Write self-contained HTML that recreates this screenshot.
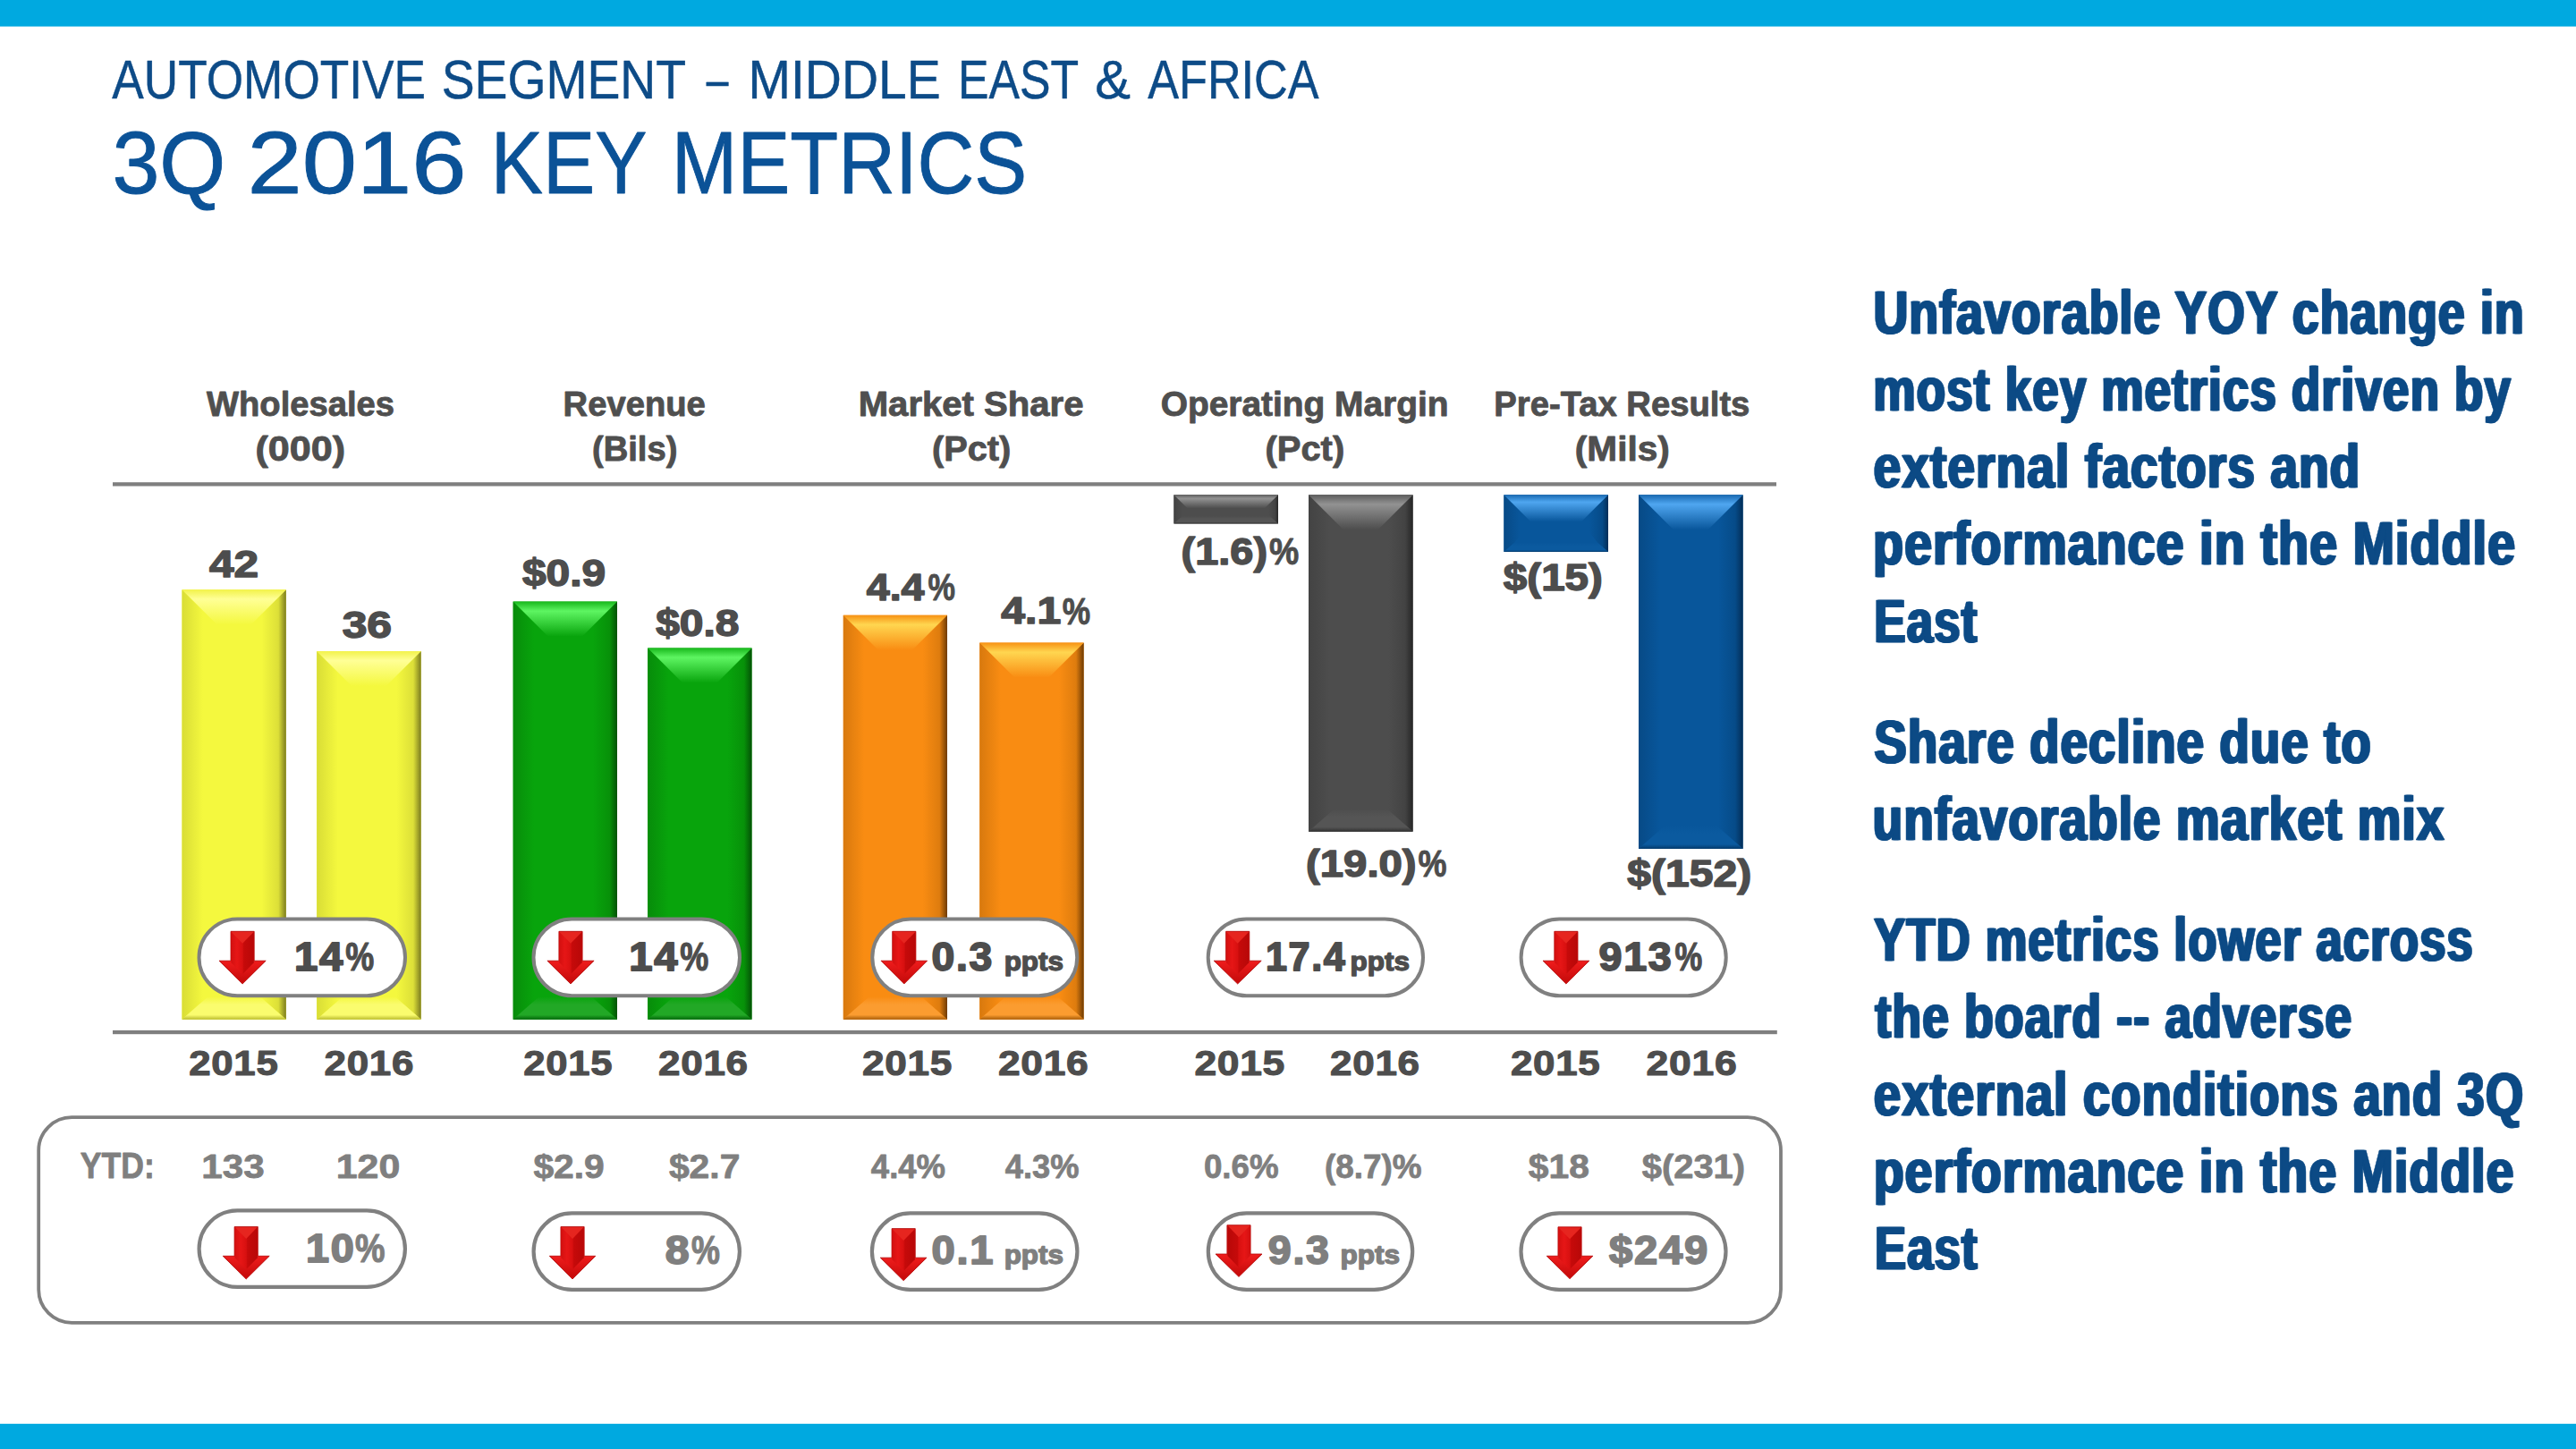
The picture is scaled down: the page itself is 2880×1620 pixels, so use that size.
<!DOCTYPE html>
<html lang="en"><head><meta charset="utf-8"><title>Automotive Segment – Middle East &amp; Africa – 3Q 2016 Key Metrics</title>
<style>
html,body{margin:0;padding:0;background:#fff;}
body{width:2880px;height:1620px;overflow:hidden;font-family:"Liberation Sans",sans-serif;}
svg{display:block;}
svg text{font-family:"Liberation Sans",sans-serif;white-space:pre;}
</style></head><body>
<svg width="2880" height="1620" viewBox="0 0 2880 1620">
<defs>
<linearGradient id="yt" x1="0" y1="0" x2="0" y2="1"><stop offset="0" stop-color="#f2f24a"/><stop offset="0.27" stop-color="#ffff96"/><stop offset="1" stop-color="#f4f83e"/></linearGradient>
<linearGradient id="yl" x1="0" y1="0" x2="1" y2="0"><stop offset="0" stop-color="#d9dd36"/><stop offset="0.6" stop-color="#f4f83e"/></linearGradient>
<linearGradient id="yr" x1="0" y1="0" x2="1" y2="0"><stop offset="0.3" stop-color="#f4f83e"/><stop offset="0.78" stop-color="#dcdf38"/><stop offset="1" stop-color="#7c7c20"/></linearGradient>
<linearGradient id="yb" x1="0" y1="0" x2="0" y2="1"><stop offset="0" stop-color="#f4f83e"/><stop offset="0.35" stop-color="#fafc6e"/><stop offset="0.8" stop-color="#fafc6e"/><stop offset="1" stop-color="#b9bb2e"/></linearGradient>
<linearGradient id="gt" x1="0" y1="0" x2="0" y2="1"><stop offset="0" stop-color="#18b81c"/><stop offset="0.27" stop-color="#5ef562"/><stop offset="1" stop-color="#08a40c"/></linearGradient>
<linearGradient id="gl" x1="0" y1="0" x2="1" y2="0"><stop offset="0" stop-color="#078c0a"/><stop offset="0.6" stop-color="#08a40c"/></linearGradient>
<linearGradient id="gr" x1="0" y1="0" x2="1" y2="0"><stop offset="0.3" stop-color="#08a40c"/><stop offset="0.78" stop-color="#079109"/><stop offset="1" stop-color="#035206"/></linearGradient>
<linearGradient id="gb" x1="0" y1="0" x2="0" y2="1"><stop offset="0" stop-color="#08a40c"/><stop offset="0.35" stop-color="#22a826"/><stop offset="0.8" stop-color="#22a826"/><stop offset="1" stop-color="#04660a"/></linearGradient>
<linearGradient id="ot" x1="0" y1="0" x2="0" y2="1"><stop offset="0" stop-color="#f79214"/><stop offset="0.27" stop-color="#ffd650"/><stop offset="1" stop-color="#f98c12"/></linearGradient>
<linearGradient id="ol" x1="0" y1="0" x2="1" y2="0"><stop offset="0" stop-color="#d8790e"/><stop offset="0.6" stop-color="#f98c12"/></linearGradient>
<linearGradient id="or" x1="0" y1="0" x2="1" y2="0"><stop offset="0.3" stop-color="#f98c12"/><stop offset="0.78" stop-color="#de7c0e"/><stop offset="1" stop-color="#6e3b04"/></linearGradient>
<linearGradient id="ob" x1="0" y1="0" x2="0" y2="1"><stop offset="0" stop-color="#f98c12"/><stop offset="0.35" stop-color="#fb9c30"/><stop offset="0.8" stop-color="#fb9c30"/><stop offset="1" stop-color="#a85c08"/></linearGradient>
<linearGradient id="kt" x1="0" y1="0" x2="0" y2="1"><stop offset="0" stop-color="#5e5e5e"/><stop offset="0.27" stop-color="#929292"/><stop offset="1" stop-color="#4d4d4d"/></linearGradient>
<linearGradient id="kl" x1="0" y1="0" x2="1" y2="0"><stop offset="0" stop-color="#434343"/><stop offset="0.6" stop-color="#4d4d4d"/></linearGradient>
<linearGradient id="kr" x1="0" y1="0" x2="1" y2="0"><stop offset="0.3" stop-color="#4d4d4d"/><stop offset="0.78" stop-color="#434343"/><stop offset="1" stop-color="#262626"/></linearGradient>
<linearGradient id="kb" x1="0" y1="0" x2="0" y2="1"><stop offset="0" stop-color="#4d4d4d"/><stop offset="0.35" stop-color="#555555"/><stop offset="0.8" stop-color="#555555"/><stop offset="1" stop-color="#303030"/></linearGradient>
<linearGradient id="bt" x1="0" y1="0" x2="0" y2="1"><stop offset="0" stop-color="#1a6ab2"/><stop offset="0.27" stop-color="#4fa6f0"/><stop offset="1" stop-color="#08569b"/></linearGradient>
<linearGradient id="bl" x1="0" y1="0" x2="1" y2="0"><stop offset="0" stop-color="#074a86"/><stop offset="0.6" stop-color="#08569b"/></linearGradient>
<linearGradient id="br" x1="0" y1="0" x2="1" y2="0"><stop offset="0.3" stop-color="#08569b"/><stop offset="0.78" stop-color="#064b88"/><stop offset="1" stop-color="#032e58"/></linearGradient>
<linearGradient id="bb" x1="0" y1="0" x2="0" y2="1"><stop offset="0" stop-color="#08569b"/><stop offset="0.35" stop-color="#0b5a9f"/><stop offset="0.8" stop-color="#0b5a9f"/><stop offset="1" stop-color="#043a6c"/></linearGradient>
<linearGradient id="ah" x1="0" y1="0" x2="0" y2="1"><stop offset="0" stop-color="#ee1c1c"/><stop offset="1" stop-color="#c40a0a"/></linearGradient>
<linearGradient id="as" x1="0" y1="0" x2="1" y2="0"><stop offset="0" stop-color="#d41010"/><stop offset="0.25" stop-color="#e61616"/><stop offset="0.5" stop-color="#d81010"/><stop offset="0.56" stop-color="#c60a0a"/><stop offset="1" stop-color="#b80808"/></linearGradient>
<linearGradient id="asf" x1="1" y1="0" x2="0" y2="0"><stop offset="0" stop-color="#d41010"/><stop offset="0.25" stop-color="#e61616"/><stop offset="0.5" stop-color="#d81010"/><stop offset="0.56" stop-color="#c60a0a"/><stop offset="1" stop-color="#b80808"/></linearGradient>
</defs>
<rect x="0" y="0" width="2880" height="29.6" fill="#00a9e0"/>
<rect x="0" y="1591.8" width="2880" height="28.2" fill="#00a9e0"/>
<text transform="translate(125.22,109.95) scale(0.8729,1)" font-size="60.97" font-weight="400" fill="#0d4b87" stroke="#0d4b87" stroke-width="0.5" stroke-linejoin="round">AUTOMOTIVE</text>
<text transform="translate(493.66,109.95) scale(0.9072,1)" font-size="60.97" font-weight="400" fill="#0d4b87" stroke="#0d4b87" stroke-width="0.5" stroke-linejoin="round">SEGMENT</text>
<text transform="translate(789.65,109.95) scale(0.7270,1)" font-size="60.97" font-weight="400" fill="#0d4b87" stroke="#0d4b87" stroke-width="0.5" stroke-linejoin="round">–</text>
<text transform="translate(836.55,109.95) scale(0.9338,1)" font-size="60.97" font-weight="400" fill="#0d4b87" stroke="#0d4b87" stroke-width="0.5" stroke-linejoin="round">MIDDLE</text>
<text transform="translate(1070.98,109.95) scale(0.8485,1)" font-size="60.97" font-weight="400" fill="#0d4b87" stroke="#0d4b87" stroke-width="0.5" stroke-linejoin="round">EAST</text>
<text transform="translate(1224.16,109.95) scale(0.9774,1)" font-size="60.97" font-weight="400" fill="#0d4b87" stroke="#0d4b87" stroke-width="0.5" stroke-linejoin="round">&amp;</text>
<text transform="translate(1283.22,109.95) scale(0.8562,1)" font-size="60.97" font-weight="400" fill="#0d4b87" stroke="#0d4b87" stroke-width="0.5" stroke-linejoin="round">AFRICA</text>
<text transform="translate(125.38,215.85) scale(0.9633,1)" font-size="98.77" font-weight="400" fill="#0b5297" stroke="#0b5297" stroke-width="0.9" stroke-linejoin="round">3Q</text>
<text transform="translate(276.44,215.85) scale(1.1151,1)" font-size="98.77" font-weight="400" fill="#0b5297" stroke="#0b5297" stroke-width="0.9" stroke-linejoin="round">2016</text>
<text transform="translate(548.75,215.85) scale(0.8836,1)" font-size="98.77" font-weight="400" fill="#0b5297" stroke="#0b5297" stroke-width="0.9" stroke-linejoin="round">KEY</text>
<text transform="translate(750.87,215.85) scale(0.8938,1)" font-size="98.77" font-weight="400" fill="#0b5297" stroke="#0b5297" stroke-width="0.9" stroke-linejoin="round">METRICS</text>
<text transform="translate(231.05,465.25) scale(0.9865,1)" font-size="38.69" font-weight="700" fill="#4f4f4f" stroke="#4f4f4f" stroke-width="0.9" stroke-linejoin="round">Wholesales</text>
<text transform="translate(285.39,515.15) scale(1.1148,1)" font-size="38.69" font-weight="700" fill="#4f4f4f" stroke="#4f4f4f" stroke-width="0.9" stroke-linejoin="round">(000)</text>
<text transform="translate(629.57,465.25) scale(0.9874,1)" font-size="38.69" font-weight="700" fill="#4f4f4f" stroke="#4f4f4f" stroke-width="0.9" stroke-linejoin="round">Revenue</text>
<text transform="translate(661.94,515.15) scale(0.9875,1)" font-size="38.69" font-weight="700" fill="#4f4f4f" stroke="#4f4f4f" stroke-width="0.9" stroke-linejoin="round">(Bils)</text>
<text transform="translate(959.74,465.25) scale(1.0363,1)" font-size="38.69" font-weight="700" fill="#4f4f4f" stroke="#4f4f4f" stroke-width="0.9" stroke-linejoin="round">Market Share</text>
<text transform="translate(1041.96,515.15) scale(1.0277,1)" font-size="38.69" font-weight="700" fill="#4f4f4f" stroke="#4f4f4f" stroke-width="0.9" stroke-linejoin="round">(Pct)</text>
<text transform="translate(1297.69,465.25) scale(1.0051,1)" font-size="38.69" font-weight="700" fill="#4f4f4f" stroke="#4f4f4f" stroke-width="0.9" stroke-linejoin="round">Operating Margin</text>
<text transform="translate(1414.45,515.15) scale(1.0326,1)" font-size="38.69" font-weight="700" fill="#4f4f4f" stroke="#4f4f4f" stroke-width="0.9" stroke-linejoin="round">(Pct)</text>
<text transform="translate(1670.27,465.25) scale(0.9883,1)" font-size="38.69" font-weight="700" fill="#4f4f4f" stroke="#4f4f4f" stroke-width="0.9" stroke-linejoin="round">Pre-Tax Results</text>
<text transform="translate(1760.82,515.15) scale(1.0493,1)" font-size="38.69" font-weight="700" fill="#4f4f4f" stroke="#4f4f4f" stroke-width="0.9" stroke-linejoin="round">(Mils)</text>
<rect x="126" y="539.2" width="1860" height="4.3" fill="#7f7f7f"/>
<rect x="126" y="1151.9" width="1860.8" height="4.3" fill="#7f7f7f"/>
<rect x="203.5" y="659.3" width="116.30" height="480.50" fill="#f4f83e"/>
<polygon points="203.5,659.3 242.50,698.30 232.50,1114.30 203.5,1139.8" fill="url(#yl)"/>
<polygon points="319.8,659.3 280.80,698.30 290.80,1114.30 319.8,1139.8" fill="url(#yr)"/>
<polygon points="203.5,659.3 319.8,659.3 280.80,698.30 242.50,698.30" fill="url(#yt)"/>
<polygon points="203.5,1139.8 319.8,1139.8 290.80,1114.30 232.50,1114.30" fill="url(#yb)"/>
<rect x="354.2" y="728" width="116.50" height="411.80" fill="#f4f83e"/>
<polygon points="354.2,728 393.20,767.00 383.20,1114.30 354.2,1139.8" fill="url(#yl)"/>
<polygon points="470.7,728 431.70,767.00 441.70,1114.30 470.7,1139.8" fill="url(#yr)"/>
<polygon points="354.2,728 470.7,728 431.70,767.00 393.20,767.00" fill="url(#yt)"/>
<polygon points="354.2,1139.8 470.7,1139.8 441.70,1114.30 383.20,1114.30" fill="url(#yb)"/>
<rect x="573.7" y="672.6" width="116.30" height="467.20" fill="#08a40c"/>
<polygon points="573.7,672.6 612.70,711.60 602.70,1114.30 573.7,1139.8" fill="url(#gl)"/>
<polygon points="690,672.6 651.00,711.60 661.00,1114.30 690,1139.8" fill="url(#gr)"/>
<polygon points="573.7,672.6 690,672.6 651.00,711.60 612.70,711.60" fill="url(#gt)"/>
<polygon points="573.7,1139.8 690,1139.8 661.00,1114.30 602.70,1114.30" fill="url(#gb)"/>
<rect x="724.2" y="724.5" width="116.30" height="415.30" fill="#08a40c"/>
<polygon points="724.2,724.5 763.20,763.50 753.20,1114.30 724.2,1139.8" fill="url(#gl)"/>
<polygon points="840.5,724.5 801.50,763.50 811.50,1114.30 840.5,1139.8" fill="url(#gr)"/>
<polygon points="724.2,724.5 840.5,724.5 801.50,763.50 763.20,763.50" fill="url(#gt)"/>
<polygon points="724.2,1139.8 840.5,1139.8 811.50,1114.30 753.20,1114.30" fill="url(#gb)"/>
<rect x="942.8" y="687.8" width="116.20" height="452.00" fill="#f98c12"/>
<polygon points="942.8,687.8 981.80,726.80 971.80,1114.30 942.8,1139.8" fill="url(#ol)"/>
<polygon points="1059,687.8 1020.00,726.80 1030.00,1114.30 1059,1139.8" fill="url(#or)"/>
<polygon points="942.8,687.8 1059,687.8 1020.00,726.80 981.80,726.80" fill="url(#ot)"/>
<polygon points="942.8,1139.8 1059,1139.8 1030.00,1114.30 971.80,1114.30" fill="url(#ob)"/>
<rect x="1095.3" y="718.6" width="116.30" height="421.20" fill="#f98c12"/>
<polygon points="1095.3,718.6 1134.30,757.60 1124.30,1114.30 1095.3,1139.8" fill="url(#ol)"/>
<polygon points="1211.6,718.6 1172.60,757.60 1182.60,1114.30 1211.6,1139.8" fill="url(#or)"/>
<polygon points="1095.3,718.6 1211.6,718.6 1172.60,757.60 1134.30,757.60" fill="url(#ot)"/>
<polygon points="1095.3,1139.8 1211.6,1139.8 1182.60,1114.30 1124.30,1114.30" fill="url(#ob)"/>
<rect x="1312.4" y="553.2" width="116.60" height="32.20" fill="#4d4d4d"/>
<polygon points="1312.4,553.2 1327.53,568.33 1322.06,577.00 1312.4,585.4" fill="url(#kl)"/>
<polygon points="1429,553.2 1413.87,568.33 1419.34,577.00 1429,585.4" fill="url(#kr)"/>
<polygon points="1312.4,553.2 1429,553.2 1413.87,568.33 1327.53,568.33" fill="url(#kt)"/>
<polygon points="1312.4,585.4 1429,585.4 1419.34,577.00 1322.06,577.00" fill="url(#kb)"/>
<rect x="1463" y="553.2" width="116.60" height="376.60" fill="#4d4d4d"/>
<polygon points="1463,553.2 1502.00,592.20 1492.00,904.30 1463,929.8" fill="url(#kl)"/>
<polygon points="1579.6,553.2 1540.60,592.20 1550.60,904.30 1579.6,929.8" fill="url(#kr)"/>
<polygon points="1463,553.2 1579.6,553.2 1540.60,592.20 1502.00,592.20" fill="url(#kt)"/>
<polygon points="1463,929.8 1579.6,929.8 1550.60,904.30 1492.00,904.30" fill="url(#kb)"/>
<rect x="1681.4" y="553.2" width="116.60" height="63.80" fill="#08569b"/>
<polygon points="1681.4,553.2 1711.39,583.19 1693.48,606.50 1681.4,617" fill="url(#bl)"/>
<polygon points="1798,553.2 1768.01,583.19 1785.92,606.50 1798,617" fill="url(#br)"/>
<polygon points="1681.4,553.2 1798,553.2 1768.01,583.19 1711.39,583.19" fill="url(#bt)"/>
<polygon points="1681.4,617 1798,617 1785.92,606.50 1693.48,606.50" fill="url(#bb)"/>
<rect x="1832" y="553.2" width="116.60" height="395.80" fill="#08569b"/>
<polygon points="1832,553.2 1871.00,592.20 1861.00,923.50 1832,949.0" fill="url(#bl)"/>
<polygon points="1948.6,553.2 1909.60,592.20 1919.60,923.50 1948.6,949.0" fill="url(#br)"/>
<polygon points="1832,553.2 1948.6,553.2 1909.60,592.20 1871.00,592.20" fill="url(#bt)"/>
<polygon points="1832,949.0 1948.6,949.0 1919.60,923.50 1861.00,923.50" fill="url(#bb)"/>
<text transform="translate(233.91,645.45) scale(1.1761,1)" font-size="42.15" font-weight="700" fill="#4d4d4d" stroke="#4d4d4d" stroke-width="1.5" stroke-linejoin="round">42</text>
<text transform="translate(382.63,712.65) scale(1.1834,1)" font-size="42.15" font-weight="700" fill="#4d4d4d" stroke="#4d4d4d" stroke-width="1.5" stroke-linejoin="round">36</text>
<text transform="translate(583.95,655.25) scale(1.1365,1)" font-size="42.15" font-weight="700" fill="#4d4d4d" stroke="#4d4d4d" stroke-width="1.5" stroke-linejoin="round">$0.9</text>
<text transform="translate(733.15,710.65) scale(1.1385,1)" font-size="42.15" font-weight="700" fill="#4d4d4d" stroke="#4d4d4d" stroke-width="1.5" stroke-linejoin="round">$0.8</text>
<text transform="translate(968.75,670.55) scale(1.1048,1)" font-size="42.15" font-weight="700" fill="#4d4d4d" stroke="#4d4d4d" stroke-width="1.5" stroke-linejoin="round">4.4</text>
<text transform="translate(1119.23,697.45) scale(1.1444,1)" font-size="42.15" font-weight="700" fill="#4d4d4d" stroke="#4d4d4d" stroke-width="1.5" stroke-linejoin="round">4.1</text>
<text transform="translate(1320.60,630.85) scale(1.1128,1)" font-size="42.15" font-weight="700" fill="#4d4d4d" stroke="#4d4d4d" stroke-width="1.5" stroke-linejoin="round">(1.6)</text>
<text transform="translate(1460.09,979.65) scale(1.1218,1)" font-size="42.15" font-weight="700" fill="#4d4d4d" stroke="#4d4d4d" stroke-width="1.5" stroke-linejoin="round">(19.0)</text>
<text transform="translate(1680.86,660.45) scale(1.1285,1)" font-size="42.15" font-weight="700" fill="#4d4d4d" stroke="#4d4d4d" stroke-width="1.5" stroke-linejoin="round">$(15)</text>
<text transform="translate(1819.35,991.25) scale(1.1394,1)" font-size="42.15" font-weight="700" fill="#4d4d4d" stroke="#4d4d4d" stroke-width="1.5" stroke-linejoin="round">$(152)</text>
<text transform="translate(1037.39,670.85) scale(0.8030,1)" font-size="42.68" font-weight="700" fill="#4d4d4d" stroke="#4d4d4d" stroke-width="0.9" stroke-linejoin="round">%</text>
<text transform="translate(1187.87,697.75) scale(0.8254,1)" font-size="42.68" font-weight="700" fill="#4d4d4d" stroke="#4d4d4d" stroke-width="0.9" stroke-linejoin="round">%</text>
<text transform="translate(1418.92,631.15) scale(0.8757,1)" font-size="42.68" font-weight="700" fill="#4d4d4d" stroke="#4d4d4d" stroke-width="0.9" stroke-linejoin="round">%</text>
<text transform="translate(1585.55,979.95) scale(0.8422,1)" font-size="42.68" font-weight="700" fill="#4d4d4d" stroke="#4d4d4d" stroke-width="0.9" stroke-linejoin="round">%</text>
<text transform="translate(211.32,1202.05) scale(1.1310,1)" font-size="38.71" font-weight="700" fill="#4d4d4d" stroke="#4d4d4d" stroke-width="1.1" stroke-linejoin="round" letter-spacing="0.600">2015</text>
<text transform="translate(362.51,1202.05) scale(1.1360,1)" font-size="38.71" font-weight="700" fill="#4d4d4d" stroke="#4d4d4d" stroke-width="1.1" stroke-linejoin="round" letter-spacing="0.600">2016</text>
<text transform="translate(585.32,1202.05) scale(1.1275,1)" font-size="38.71" font-weight="700" fill="#4d4d4d" stroke="#4d4d4d" stroke-width="1.1" stroke-linejoin="round" letter-spacing="0.600">2015</text>
<text transform="translate(736.01,1202.05) scale(1.1384,1)" font-size="38.71" font-weight="700" fill="#4d4d4d" stroke="#4d4d4d" stroke-width="1.1" stroke-linejoin="round" letter-spacing="0.600">2016</text>
<text transform="translate(964.01,1202.05) scale(1.1403,1)" font-size="38.71" font-weight="700" fill="#4d4d4d" stroke="#4d4d4d" stroke-width="1.1" stroke-linejoin="round" letter-spacing="0.600">2015</text>
<text transform="translate(1116.00,1202.05) scale(1.1454,1)" font-size="38.71" font-weight="700" fill="#4d4d4d" stroke="#4d4d4d" stroke-width="1.1" stroke-linejoin="round" letter-spacing="0.600">2016</text>
<text transform="translate(1335.40,1202.05) scale(1.1474,1)" font-size="38.71" font-weight="700" fill="#4d4d4d" stroke="#4d4d4d" stroke-width="1.1" stroke-linejoin="round" letter-spacing="0.600">2015</text>
<text transform="translate(1487.01,1202.05) scale(1.1384,1)" font-size="38.71" font-weight="700" fill="#4d4d4d" stroke="#4d4d4d" stroke-width="1.1" stroke-linejoin="round" letter-spacing="0.600">2016</text>
<text transform="translate(1689.01,1202.05) scale(1.1345,1)" font-size="38.71" font-weight="700" fill="#4d4d4d" stroke="#4d4d4d" stroke-width="1.1" stroke-linejoin="round" letter-spacing="0.600">2015</text>
<text transform="translate(1840.59,1202.05) scale(1.1501,1)" font-size="38.71" font-weight="700" fill="#4d4d4d" stroke="#4d4d4d" stroke-width="1.1" stroke-linejoin="round" letter-spacing="0.600">2016</text>
<rect x="222.50" y="1027.60" width="230.50" height="85.70" rx="42.85" fill="#fff" stroke="#808080" stroke-width="4"/>
<rect x="596.50" y="1027.60" width="230.50" height="85.70" rx="42.85" fill="#fff" stroke="#808080" stroke-width="4"/>
<rect x="975.30" y="1027.60" width="228.90" height="85.70" rx="42.85" fill="#fff" stroke="#808080" stroke-width="4"/>
<rect x="1350.70" y="1027.60" width="240.30" height="85.70" rx="42.85" fill="#fff" stroke="#808080" stroke-width="4"/>
<rect x="1700.60" y="1027.60" width="229.10" height="85.70" rx="42.85" fill="#fff" stroke="#808080" stroke-width="4"/>
<polygon points="258.00,1041.3 284.20,1041.3 284.20,1074.17 297.2,1074.17 271.10,1100 245,1074.17 258.00,1074.17" fill="#d60e0e" stroke="#b00808" stroke-width="0.8" stroke-linejoin="round"/>
<polygon points="246.5,1074.77 295.7,1074.77 271.10,1098.80" fill="url(#ah)"/>
<polygon points="258.50,1041.8 283.70,1041.8 283.70,1076.17 271.10,1089.17 258.50,1076.17" fill="url(#as)"/>
<polygon points="258.60,1041.8999999999999 283.60,1041.8999999999999 271.10,1054.8" fill="#e6251f"/>
<polygon points="624.90,1041.3 651.10,1041.3 651.10,1074.17 664.1,1074.17 638.00,1100 611.9,1074.17 624.90,1074.17" fill="#d60e0e" stroke="#b00808" stroke-width="0.8" stroke-linejoin="round"/>
<polygon points="613.4,1074.77 662.6,1074.77 638.00,1098.80" fill="url(#ah)"/>
<polygon points="625.40,1041.8 650.60,1041.8 650.60,1076.17 638.00,1089.17 625.40,1076.17" fill="url(#as)"/>
<polygon points="625.50,1041.8999999999999 650.50,1041.8999999999999 638.00,1054.8" fill="#e6251f"/>
<polygon points="997.70,1041.3 1023.90,1041.3 1023.90,1074.17 1036.6,1074.17 1010.80,1100 985,1074.17 997.70,1074.17" fill="#d60e0e" stroke="#b00808" stroke-width="0.8" stroke-linejoin="round"/>
<polygon points="986.5,1074.77 1035.1,1074.77 1010.80,1098.80" fill="url(#ah)"/>
<polygon points="998.20,1041.8 1023.40,1041.8 1023.40,1076.17 1010.80,1089.17 998.20,1076.17" fill="url(#as)"/>
<polygon points="998.30,1041.8999999999999 1023.30,1041.8999999999999 1010.80,1054.8" fill="#e6251f"/>
<polygon points="1370.60,1041.3 1396.80,1041.3 1396.80,1074.17 1410.2,1074.17 1383.70,1100 1357.2,1074.17 1370.60,1074.17" fill="#d60e0e" stroke="#b00808" stroke-width="0.8" stroke-linejoin="round"/>
<polygon points="1358.7,1074.77 1408.7,1074.77 1383.70,1098.80" fill="url(#ah)"/>
<polygon points="1371.10,1041.8 1396.30,1041.8 1396.30,1076.17 1383.70,1089.17 1371.10,1076.17" fill="url(#as)"/>
<polygon points="1371.20,1041.8999999999999 1396.20,1041.8999999999999 1383.70,1054.8" fill="#e6251f"/>
<polygon points="1737.80,1041.3 1764.00,1041.3 1764.00,1074.17 1776.8,1074.17 1750.90,1100 1725,1074.17 1737.80,1074.17" fill="#d60e0e" stroke="#b00808" stroke-width="0.8" stroke-linejoin="round"/>
<polygon points="1726.5,1074.77 1775.3,1074.77 1750.90,1098.80" fill="url(#ah)"/>
<polygon points="1738.30,1041.8 1763.50,1041.8 1763.50,1076.17 1750.90,1089.17 1738.30,1076.17" fill="url(#as)"/>
<polygon points="1738.40,1041.8999999999999 1763.40,1041.8999999999999 1750.90,1054.8" fill="#e6251f"/>
<text transform="translate(328.93,1084.90) scale(1.0885,1)" font-size="43.58" font-weight="700" fill="#4d4d4d" stroke="#4d4d4d" stroke-width="1.8" stroke-linejoin="round" letter-spacing="1.600">14</text>
<text transform="translate(386.20,1085.10) scale(0.8231,1)" font-size="43.66" font-weight="700" fill="#4d4d4d" stroke="#4d4d4d" stroke-width="1.2" stroke-linejoin="round">%</text>
<text transform="translate(703.15,1084.90) scale(1.0843,1)" font-size="43.58" font-weight="700" fill="#4d4d4d" stroke="#4d4d4d" stroke-width="1.8" stroke-linejoin="round" letter-spacing="1.600">14</text>
<text transform="translate(760.20,1085.10) scale(0.8231,1)" font-size="43.66" font-weight="700" fill="#4d4d4d" stroke="#4d4d4d" stroke-width="1.2" stroke-linejoin="round">%</text>
<text transform="translate(1041.55,1084.90) scale(1.0626,1)" font-size="43.58" font-weight="700" fill="#4d4d4d" stroke="#4d4d4d" stroke-width="1.8" stroke-linejoin="round" letter-spacing="1.600">0.3</text>
<text transform="translate(1122.65,1084.90) scale(1.0376,1)" font-size="30.33" font-weight="700" fill="#4d4d4d" stroke="#4d4d4d" stroke-width="1.4" stroke-linejoin="round">ppts</text>
<text transform="translate(1415.00,1084.90) scale(0.9904,1)" font-size="43.58" font-weight="700" fill="#4d4d4d" stroke="#4d4d4d" stroke-width="1.8" stroke-linejoin="round" letter-spacing="1.600">17.4</text>
<text transform="translate(1509.45,1084.90) scale(1.0392,1)" font-size="30.33" font-weight="700" fill="#4d4d4d" stroke="#4d4d4d" stroke-width="1.4" stroke-linejoin="round">ppts</text>
<text transform="translate(1787.47,1084.90) scale(1.0710,1)" font-size="43.58" font-weight="700" fill="#4d4d4d" stroke="#4d4d4d" stroke-width="1.8" stroke-linejoin="round" letter-spacing="1.600">913</text>
<text transform="translate(1872.44,1085.10) scale(0.7903,1)" font-size="43.66" font-weight="700" fill="#4d4d4d" stroke="#4d4d4d" stroke-width="1.2" stroke-linejoin="round">%</text>
<rect x="43.2" y="1249.2" width="1947.8" height="229.6" rx="37" fill="none" stroke="#808080" stroke-width="3.8"/>
<text transform="translate(89.78,1316.50) scale(0.8832,1)" font-size="40.29" font-weight="700" fill="#7f7f7f" stroke="#7f7f7f" stroke-width="0.8" stroke-linejoin="round">YTD:</text>
<text transform="translate(225.36,1317.00) scale(1.1268,1)" font-size="37.42" font-weight="700" fill="#7f7f7f" stroke="#7f7f7f" stroke-width="0.8" stroke-linejoin="round">133</text>
<text transform="translate(375.72,1317.00) scale(1.1475,1)" font-size="37.42" font-weight="700" fill="#7f7f7f" stroke="#7f7f7f" stroke-width="0.8" stroke-linejoin="round">120</text>
<text transform="translate(596.39,1317.00) scale(1.0901,1)" font-size="37.42" font-weight="700" fill="#7f7f7f" stroke="#7f7f7f" stroke-width="0.8" stroke-linejoin="round">$2.9</text>
<text transform="translate(747.89,1317.00) scale(1.0916,1)" font-size="37.42" font-weight="700" fill="#7f7f7f" stroke="#7f7f7f" stroke-width="0.8" stroke-linejoin="round">$2.7</text>
<text transform="translate(973.85,1317.00) scale(0.9758,1)" font-size="37.42" font-weight="700" fill="#7f7f7f" stroke="#7f7f7f" stroke-width="0.8" stroke-linejoin="round">4.4%</text>
<text transform="translate(1123.86,1317.00) scale(0.9698,1)" font-size="37.42" font-weight="700" fill="#7f7f7f" stroke="#7f7f7f" stroke-width="0.8" stroke-linejoin="round">4.3%</text>
<text transform="translate(1345.93,1317.00) scale(0.9808,1)" font-size="37.42" font-weight="700" fill="#7f7f7f" stroke="#7f7f7f" stroke-width="0.8" stroke-linejoin="round">0.6%</text>
<text transform="translate(1481.06,1317.00) scale(0.9851,1)" font-size="37.42" font-weight="700" fill="#7f7f7f" stroke="#7f7f7f" stroke-width="0.8" stroke-linejoin="round">(8.7)%</text>
<text transform="translate(1708.79,1317.00) scale(1.0903,1)" font-size="37.42" font-weight="700" fill="#7f7f7f" stroke="#7f7f7f" stroke-width="0.8" stroke-linejoin="round">$18</text>
<text transform="translate(1835.80,1317.00) scale(1.0661,1)" font-size="37.42" font-weight="700" fill="#7f7f7f" stroke="#7f7f7f" stroke-width="0.8" stroke-linejoin="round">$(231)</text>
<rect x="222.60" y="1353.40" width="230.30" height="85.50" rx="42.75" fill="#fff" stroke="#808080" stroke-width="4.2"/>
<rect x="596.60" y="1356.40" width="230.30" height="85.50" rx="42.75" fill="#fff" stroke="#808080" stroke-width="4.2"/>
<rect x="974.90" y="1356.40" width="229.50" height="85.50" rx="42.75" fill="#fff" stroke="#808080" stroke-width="4.2"/>
<rect x="1350.80" y="1356.40" width="228.40" height="85.50" rx="42.75" fill="#fff" stroke="#808080" stroke-width="4.2"/>
<rect x="1700.50" y="1356.40" width="229.00" height="85.50" rx="42.75" fill="#fff" stroke="#808080" stroke-width="4.2"/>
<polygon points="262.10,1371.5 288.30,1371.5 288.30,1404.26 301.2,1404.26 275.20,1430 249.2,1404.26 262.10,1404.26" fill="#d60e0e" stroke="#b00808" stroke-width="0.8" stroke-linejoin="round"/>
<polygon points="250.7,1404.86 299.7,1404.86 275.20,1428.80" fill="url(#ah)"/>
<polygon points="262.60,1372.0 287.80,1372.0 287.80,1406.26 275.20,1419.26 262.60,1406.26" fill="url(#as)"/>
<polygon points="262.70,1372.1 287.70,1372.1 275.20,1385.0" fill="#e6251f"/>
<polygon points="626.95,1371.5 653.15,1371.5 653.15,1404.26 665.8,1404.26 640.05,1430 614.3,1404.26 626.95,1404.26" fill="#d60e0e" stroke="#b00808" stroke-width="0.8" stroke-linejoin="round"/>
<polygon points="615.8,1404.86 664.3,1404.86 640.05,1428.80" fill="url(#ah)"/>
<polygon points="627.45,1372.0 652.65,1372.0 652.65,1406.26 640.05,1419.26 627.45,1406.26" fill="url(#as)"/>
<polygon points="627.55,1372.1 652.55,1372.1 640.05,1385.0" fill="#e6251f"/>
<polygon points="997.05,1373.6 1023.25,1373.6 1023.25,1406.14 1036,1406.14 1010.15,1431.7 984.3,1406.14 997.05,1406.14" fill="#d60e0e" stroke="#b00808" stroke-width="0.8" stroke-linejoin="round"/>
<polygon points="985.8,1406.74 1034.5,1406.74 1010.15,1430.50" fill="url(#ah)"/>
<polygon points="997.55,1374.1 1022.75,1374.1 1022.75,1408.14 1010.15,1421.14 997.55,1408.14" fill="url(#as)"/>
<polygon points="997.65,1374.1999999999998 1022.65,1374.1999999999998 1010.15,1387.1" fill="#e6251f"/>
<polygon points="1371.90,1369.7 1398.10,1369.7 1398.10,1402.01 1411,1402.01 1385.00,1427.4 1359,1402.01 1371.90,1402.01" fill="#d60e0e" stroke="#b00808" stroke-width="0.8" stroke-linejoin="round"/>
<polygon points="1360.5,1402.61 1409.5,1402.61 1385.00,1426.20" fill="url(#ah)"/>
<polygon points="1372.40,1370.2 1397.60,1370.2 1397.60,1404.01 1385.00,1417.01 1372.40,1404.01" fill="url(#asf)"/>
<polygon points="1372.50,1370.3 1397.50,1370.3 1385.00,1383.2" fill="#e6251f"/>
<polygon points="1741.95,1371.8 1768.15,1371.8 1768.15,1404.22 1780.9,1404.22 1755.05,1429.7 1729.2,1404.22 1741.95,1404.22" fill="#d60e0e" stroke="#b00808" stroke-width="0.8" stroke-linejoin="round"/>
<polygon points="1730.7,1404.82 1779.4,1404.82 1755.05,1428.50" fill="url(#ah)"/>
<polygon points="1742.45,1372.3 1767.65,1372.3 1767.65,1406.22 1755.05,1419.22 1742.45,1406.22" fill="url(#as)"/>
<polygon points="1742.55,1372.3999999999999 1767.55,1372.3999999999999 1755.05,1385.3" fill="#e6251f"/>
<text transform="translate(341.97,1410.60) scale(1.0745,1)" font-size="43.58" font-weight="700" fill="#7f7f7f" stroke="#7f7f7f" stroke-width="1.8" stroke-linejoin="round" letter-spacing="1.600">10</text>
<text transform="translate(396.96,1410.80) scale(0.8614,1)" font-size="43.66" font-weight="700" fill="#7f7f7f" stroke="#7f7f7f" stroke-width="1.2" stroke-linejoin="round">%</text>
<text transform="translate(743.73,1413.10) scale(1.1088,1)" font-size="43.58" font-weight="700" fill="#7f7f7f" stroke="#7f7f7f" stroke-width="1.8" stroke-linejoin="round" letter-spacing="1.600">8</text>
<text transform="translate(773.10,1413.30) scale(0.8204,1)" font-size="43.66" font-weight="700" fill="#7f7f7f" stroke="#7f7f7f" stroke-width="1.2" stroke-linejoin="round">%</text>
<text transform="translate(1041.52,1413.10) scale(1.0799,1)" font-size="43.58" font-weight="700" fill="#7f7f7f" stroke="#7f7f7f" stroke-width="1.8" stroke-linejoin="round" letter-spacing="1.600">0.1</text>
<text transform="translate(1122.65,1413.30) scale(1.0376,1)" font-size="30.33" font-weight="700" fill="#7f7f7f" stroke="#7f7f7f" stroke-width="1.4" stroke-linejoin="round">ppts</text>
<text transform="translate(1417.87,1413.10) scale(1.0670,1)" font-size="43.58" font-weight="700" fill="#7f7f7f" stroke="#7f7f7f" stroke-width="1.8" stroke-linejoin="round" letter-spacing="1.600">9.3</text>
<text transform="translate(1498.44,1413.30) scale(1.0425,1)" font-size="30.33" font-weight="700" fill="#7f7f7f" stroke="#7f7f7f" stroke-width="1.4" stroke-linejoin="round">ppts</text>
<text transform="translate(1799.11,1412.80) scale(1.0824,1)" font-size="43.58" font-weight="700" fill="#7f7f7f" stroke="#7f7f7f" stroke-width="1.8" stroke-linejoin="round" letter-spacing="1.600">$249</text>
<text id="rt1" transform="translate(2094.76,372.90) scale(0.7815,1)" font-size="68.07" font-weight="700" fill="#0c4a85" stroke="#0c4a85" stroke-width="0.6" stroke-linejoin="round" letter-spacing="1.664">Unfavorable YOY change in</text>
<use href="#rt1" x="-1.25"/><use href="#rt1" x="1.25"/>
<text id="rt2" transform="translate(2094.52,459.10) scale(0.7748,1)" font-size="68.07" font-weight="700" fill="#0c4a85" stroke="#0c4a85" stroke-width="0.6" stroke-linejoin="round" letter-spacing="1.678">most key metrics driven by</text>
<use href="#rt2" x="-1.25"/><use href="#rt2" x="1.25"/>
<text id="rt3" transform="translate(2094.77,545.30) scale(0.8019,1)" font-size="68.07" font-weight="700" fill="#0c4a85" stroke="#0c4a85" stroke-width="0.6" stroke-linejoin="round" letter-spacing="1.621">external factors and</text>
<use href="#rt3" x="-1.25"/><use href="#rt3" x="1.25"/>
<text id="rt4" transform="translate(2094.36,631.40) scale(0.8103,1)" font-size="68.07" font-weight="700" fill="#0c4a85" stroke="#0c4a85" stroke-width="0.6" stroke-linejoin="round" letter-spacing="1.604">performance in the Middle</text>
<use href="#rt4" x="-1.25"/><use href="#rt4" x="1.25"/>
<text id="rt5" transform="translate(2095.40,717.60) scale(0.7726,1)" font-size="68.07" font-weight="700" fill="#0c4a85" stroke="#0c4a85" stroke-width="0.6" stroke-linejoin="round" letter-spacing="1.683">East</text>
<use href="#rt5" x="-1.25"/><use href="#rt5" x="1.25"/>
<text id="rt6" transform="translate(2095.62,852.70) scale(0.7969,1)" font-size="68.07" font-weight="700" fill="#0c4a85" stroke="#0c4a85" stroke-width="0.6" stroke-linejoin="round" letter-spacing="1.631">Share decline due to</text>
<use href="#rt6" x="-1.25"/><use href="#rt6" x="1.25"/>
<text id="rt7" transform="translate(2093.85,938.80) scale(0.7998,1)" font-size="68.07" font-weight="700" fill="#0c4a85" stroke="#0c4a85" stroke-width="0.6" stroke-linejoin="round" letter-spacing="1.625">unfavorable market mix</text>
<use href="#rt7" x="-1.25"/><use href="#rt7" x="1.25"/>
<text id="rt8" transform="translate(2095.33,1074.00) scale(0.7683,1)" font-size="68.07" font-weight="700" fill="#0c4a85" stroke="#0c4a85" stroke-width="0.6" stroke-linejoin="round" letter-spacing="1.692">YTD metrics lower across</text>
<use href="#rt8" x="-1.25"/><use href="#rt8" x="1.25"/>
<text id="rt9" transform="translate(2096.59,1160.10) scale(0.7806,1)" font-size="68.07" font-weight="700" fill="#0c4a85" stroke="#0c4a85" stroke-width="0.6" stroke-linejoin="round" letter-spacing="1.665">the board -- adverse</text>
<use href="#rt9" x="-1.25"/><use href="#rt9" x="1.25"/>
<text id="rt10" transform="translate(2095.09,1246.50) scale(0.7938,1)" font-size="68.07" font-weight="700" fill="#0c4a85" stroke="#0c4a85" stroke-width="0.6" stroke-linejoin="round" letter-spacing="1.638">external conditions and 3Q</text>
<use href="#rt10" x="-1.25"/><use href="#rt10" x="1.25"/>
<text id="rt11" transform="translate(2094.98,1332.90) scale(0.8079,1)" font-size="68.07" font-weight="700" fill="#0c4a85" stroke="#0c4a85" stroke-width="0.6" stroke-linejoin="round" letter-spacing="1.609">performance in the Middle</text>
<use href="#rt11" x="-1.25"/><use href="#rt11" x="1.25"/>
<text id="rt12" transform="translate(2096.01,1419.30) scale(0.7697,1)" font-size="68.07" font-weight="700" fill="#0c4a85" stroke="#0c4a85" stroke-width="0.6" stroke-linejoin="round" letter-spacing="1.689">East</text>
<use href="#rt12" x="-1.25"/><use href="#rt12" x="1.25"/>
</svg>
</body></html>
